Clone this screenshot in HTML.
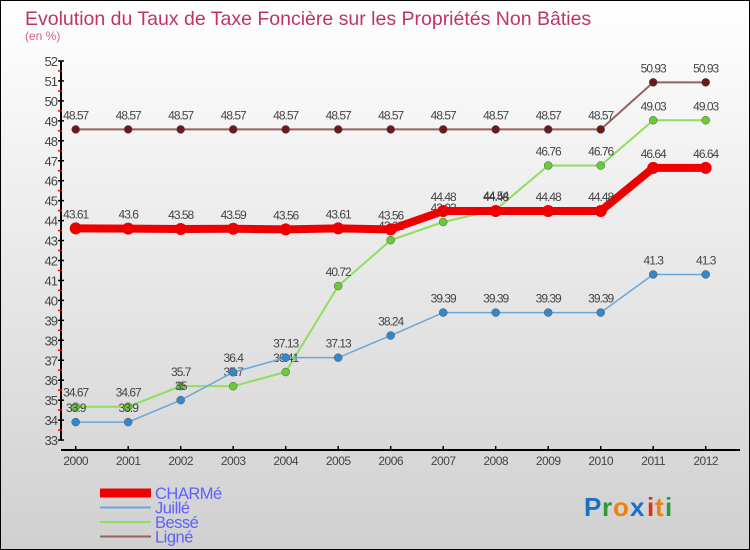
<!DOCTYPE html>
<html><head><meta charset="utf-8"><style>
body{margin:0;width:750px;height:550px;overflow:hidden}
#c{position:absolute;left:0;top:0;width:748px;height:548px;border:1px solid #000;background:linear-gradient(#ffffff,#d0d0d0)}
svg{position:absolute;left:0;top:0;font-family:"Liberation Sans",sans-serif}
</style></head><body>
<div id="c"></div>
<svg id="s" width="750" height="550">
<text x="25" y="25" font-size="19.5" fill="#c0336a">Evolution du Taux de Taxe Foncière sur les Propriétés Non Bâties</text>
<text x="25" y="40" font-size="12" fill="#d2608a">(en %)</text>
<g id="logo" font-size="26" font-weight="bold">
<text x="584" y="516" fill="#1a70c8">P</text><text x="602" y="516" fill="#2a9a3a">r</text><text x="613" y="516" fill="#f08010">o</text><text x="630" y="516" fill="#1a70c8">x</text><text x="647" y="516" fill="#e03010">i</text><text x="655" y="516" fill="#f08010">t</text><text x="665" y="516" fill="#2a9a3a">i</text>
</g>
</svg>
<script>
const years=["2000","2001","2002","2003","2004","2005","2006","2007","2008","2009","2010","2011","2012"];
const yTicks=[33,34,35,36,37,38,39,40,41,42,43,44,45,46,47,48,49,50,51,52];
const charme=[43.61,43.6,43.58,43.59,43.56,43.61,43.56,44.48,44.48,44.48,44.48,46.64,46.64];
const juille=[33.9,33.9,35,36.4,37.13,37.13,38.24,39.39,39.39,39.39,39.39,41.3,41.3];
const besse=[34.67,34.67,35.7,35.7,36.41,40.72,43.02,43.93,44.54,46.76,46.76,49.03,49.03];
const ligne=[48.57,48.57,48.57,48.57,48.57,48.57,48.57,48.57,48.57,48.57,48.57,50.93,50.93];
const names=["CHARMé","Juillé","Bessé","Ligné"];
const NS="http://www.w3.org/2000/svg",s=document.getElementById('s');
const X=i=>75.7+i*52.5, Y=v=>61+(52-v)*19.95;
function el(t,a,p){const e=document.createElementNS(NS,t);for(const k in a)e.setAttribute(k,a[k]);(p||s).appendChild(e);return e;}
let ax=el('line',{x1:61,y1:61,x2:61,y2:440,stroke:'#000','stroke-width':2});


let xa=el('line',{x1:61,y1:450,x2:740,y2:450,stroke:'#000','stroke-width':2});


yTicks.forEach(v=>{
 el('line',{x1:58,y1:Y(v),x2:64,y2:Y(v),stroke:'#000','stroke-width':1.5});
 if(v<52)el('line',{x1:58,y1:Y(v+0.5),x2:62,y2:Y(v+0.5),stroke:'#e00','stroke-width':1.5});
 let t=el('text',{x:57,y:Y(v)+5,'font-size':13,fill:'#444','text-anchor':'end','letter-spacing':'-1'});t.textContent=v;
 
 
});
years.forEach((y,i)=>{
 el('line',{x1:X(i),y1:446,x2:X(i),y2:450,stroke:'#000','stroke-width':1.5});
 let t=el('text',{x:X(i),y:465,'font-size':12,fill:'#444','text-anchor':'middle','letter-spacing':'-0.5'});t.textContent=y;
 
 
});
const series=[[ligne,'#9a6060','#6a1a1a',2,4,'ligne'],[besse,'#90dd60','#66cc33',2,4,'besse'],[juille,'#6aa6d6','#3388cc',1.5,4,'juille'],[charme,'#ee0000','#ee0000',8,6,'charme']];
series.forEach(([d,lc,pc,w,r,n])=>{
 let g=el('g',{});
 
 
 let p=el('polyline',{points:d.map((v,i)=>X(i)+','+Y(v)).join(' '),fill:'none',stroke:lc,'stroke-width':w},g);
 d.forEach((v,i)=>{
  let c=el('circle',{cx:X(i),cy:Y(v),r:r,fill:pc,stroke:n=='charme'?'#ee0000':'#555','stroke-width':n=='charme'?0:0.5},g);
  
  
  let t=el('text',{x:X(i),y:Y(v)-10,'font-size':12,fill:'#444','text-anchor':'middle','letter-spacing':'-1'},g);t.textContent=v;
  
  
 });
});
const lc=['#ee0000','#6aa6d6','#90dd60','#9a6060'],lw=[9,2,2,2];
names.forEach((n,i)=>{
 let y=493+i*14.5;
 let l=el('line',{x1:100,y1:y,x2:151,y2:y,stroke:lc[i],'stroke-width':lw[i]});
 
 
 let t=el('text',{x:155,y:y+6,'font-size':16.5,fill:'#6060ff','letter-spacing':'-0.5'});t.textContent=n;
 
 
});
</script>
</body></html>
